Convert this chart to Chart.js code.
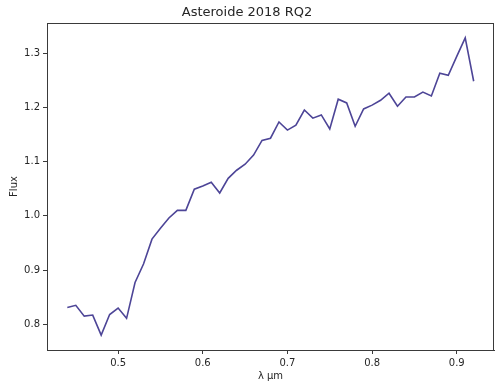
<!DOCTYPE html>
<html>
<head>
<meta charset="utf-8">
<script src="https://cdn.jsdelivr.net/npm/chart.js@4"></script>
<style>
  html, body { margin: 0; padding: 0; background: #fff; }
  canvas { display: block; }
</style>
</head>
<body>
<canvas id="c" width="495" height="388"></canvas>
<script>
// Reflectance spectrum of asteroid 2018 RQ2
const wavelengths = [
  0.44, 0.45, 0.46, 0.47, 0.48, 0.49, 0.50, 0.51, 0.52, 0.53,
  0.54, 0.55, 0.56, 0.57, 0.58, 0.59, 0.60, 0.61, 0.62, 0.63,
  0.64, 0.65, 0.66, 0.67, 0.68, 0.69, 0.70, 0.71, 0.72, 0.73,
  0.74, 0.75, 0.76, 0.77, 0.78, 0.79, 0.80, 0.81, 0.82, 0.83,
  0.84, 0.85, 0.86, 0.87, 0.88, 0.89, 0.90, 0.91, 0.92
];
const flux = [
  0.831, 0.835, 0.815, 0.817, 0.780, 0.818, 0.830, 0.811, 0.877, 0.911,
  0.957, 0.977, 0.996, 1.010, 1.010, 1.049, 1.055, 1.062, 1.042, 1.069,
  1.084, 1.095, 1.112, 1.139, 1.143, 1.173, 1.158, 1.167, 1.195, 1.180,
  1.186, 1.160, 1.215, 1.208, 1.165, 1.197, 1.204, 1.213, 1.226, 1.202,
  1.219, 1.219, 1.228, 1.221, 1.263, 1.259, 1.294, 1.328, 1.248
];
const xTicks = [0.5, 0.6, 0.7, 0.8, 0.9];
const yTicks = [0.8, 0.9, 1.0, 1.1, 1.2, 1.3];

const points = wavelengths.map((w, i) => ({ x: w, y: flux[i] }));

// 5% margin around the data on both axes
const xSpan = Math.max(...wavelengths) - Math.min(...wavelengths);
const ySpan = Math.max(...flux) - Math.min(...flux);
const xMin = Math.min(...wavelengths) - 0.05 * xSpan;
const xMax = Math.max(...wavelengths) + 0.05 * xSpan;
const yMin = Math.min(...flux) - 0.05 * ySpan;
const yMax = Math.max(...flux) + 0.05 * ySpan;

const FONT = 'DejaVu Sans';
const INK = '#262626';

// full box around the plotting area
const frame = {
  id: 'frame',
  afterDatasetsDraw(chart) {
    const { ctx, chartArea: a } = chart;
    ctx.save();
    ctx.strokeStyle = '#3a3a3a';
    ctx.lineWidth = 1;
    ctx.strokeRect(Math.round(a.left) + 0.5, Math.round(a.top) + 0.5,
                   Math.round(a.right - a.left) - 1, Math.round(a.bottom - a.top));
    ctx.restore();
  }
};

new Chart(document.getElementById('c'), {
  type: 'line',
  data: {
    datasets: [{
      data: points,
      borderColor: '#4d4597',
      borderWidth: 1.6,
      pointRadius: 0,
      tension: 0,
      fill: false
    }]
  },
  options: {
    responsive: false,
    animation: false,
    layout: { padding: { left: 0, right: 1, top: 0, bottom: 0 } },
    plugins: {
      legend: { display: false },
      tooltip: { enabled: false },
      title: {
        display: true,
        text: 'Asteroide 2018 RQ2',
        color: INK,
        font: { family: FONT, size: 13, weight: 'normal', lineHeight: 1.2 },
        padding: { top: 4.4, bottom: 3 }
      }
    },
    scales: {
      x: {
        type: 'linear',
        min: xMin,
        max: xMax,
        afterBuildTicks: s => { s.ticks = xTicks.map(v => ({ value: v })); },
        afterFit: s => { s.height = 38; },
        ticks: {
          color: INK,
          font: { family: FONT, size: 10 },
          padding: 3,
          maxRotation: 0,
          callback: v => v.toFixed(1)
        },
        grid: { drawOnChartArea: false, drawTicks: true, tickLength: 4, tickColor: '#3a3a3a' },
        border: { display: true, color: '#3a3a3a' },
        title: {
          display: true,
          text: 'λ μm',
          color: INK,
          font: { family: FONT, size: 10 },
          padding: { top: 2, bottom: 6 }
        }
      },
      y: {
        type: 'linear',
        min: yMin,
        max: yMax,
        afterBuildTicks: s => { s.ticks = yTicks.map(v => ({ value: v })); },
        afterFit: s => { s.width = 47; },
        ticks: {
          color: INK,
          font: { family: FONT, size: 10 },
          padding: 3,
          callback: v => v.toFixed(1)
        },
        grid: { drawOnChartArea: false, drawTicks: true, tickLength: 4, tickColor: '#3a3a3a' },
        border: { display: true, color: '#3a3a3a' },
        title: {
          display: true,
          text: 'Flux',
          color: INK,
          font: { family: FONT, size: 10 },
          padding: { top: 8, bottom: 0 }
        }
      }
    }
  },
  plugins: [frame]
});
</script>
</body>
</html>
